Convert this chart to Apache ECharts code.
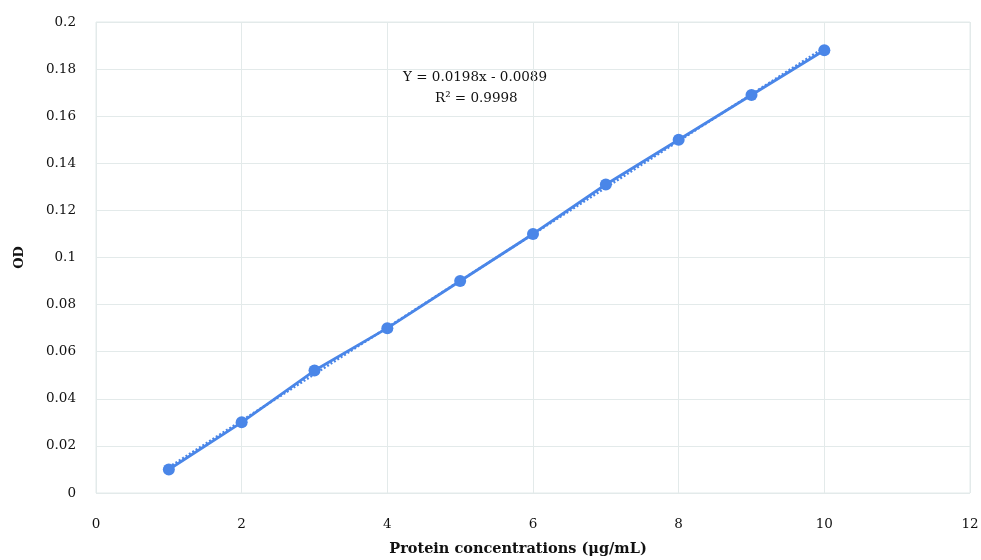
<!DOCTYPE html>
<html><head><meta charset="utf-8">
<script src="https://cdn.jsdelivr.net/npm/echarts@6/dist/echarts.min.js"></script>
<style>html,body{margin:0;padding:0;background:#fff}#c{width:981px;height:560px}</style>
</head><body><div id="c"></div>
<script>
const concentrations = [1, 2, 3, 4, 5, 6, 7, 8, 9, 10];
const odValues = [0.010, 0.030, 0.052, 0.070, 0.090, 0.110, 0.131, 0.150, 0.169, 0.188];
const trendX = [1, 10];
const trendY = [0.0109, 0.1891];
const xTicks = [0, 2, 4, 6, 8, 10, 12];
const yTicks = [0, 0.02, 0.04, 0.06, 0.08, 0.1, 0.12, 0.14, 0.16, 0.18, 0.2];
const equationText = 'Y = 0.0198x - 0.0089';
const r2Text = 'R² = 0.9998';

const font = '"DejaVu Serif", "Liberation Serif", serif';
const chart = echarts.init(document.getElementById('c'));
chart.setOption({
  animation: false,
  grid: { left: 96, right: 11, top: 22, bottom: 67, show: true, borderColor: '#e3eaea', borderWidth: 1,
          outerBoundsMode: 'none', containLabel: false },
  xAxis: {
    type: 'value', min: 0, max: 12, interval: 2,
    name: 'Protein concentrations (μg/mL)', nameLocation: 'middle', nameGap: 49,
    nameTextStyle: { fontFamily: font, fontWeight: 'bold', fontSize: 14.5, color: '#111', padding: [0, 30, 0, 0] },
    axisLine: { show: false }, axisTick: { show: false },
    axisLabel: { fontFamily: font, fontSize: 13.5, color: '#111', margin: 24,
      formatter: v => xTicks.includes(v) ? String(v) : '' },
    splitLine: { show: true, lineStyle: { color: '#e3eaea', width: 1 } }
  },
  yAxis: {
    type: 'value', min: 0, max: 0.2, interval: 0.02,
    name: 'OD', nameLocation: 'middle', nameGap: 70, nameRotate: 90,
    nameTextStyle: { fontFamily: font, fontWeight: 'bold', fontSize: 13, color: '#111' },
    axisLine: { show: false }, axisTick: { show: false },
    axisLabel: { fontFamily: font, fontSize: 13.5, color: '#111', margin: 20,
      formatter: v => { const t = yTicks.find(k => Math.abs(k - v) < 1e-9); return t === undefined ? '' : String(t); } },
    splitLine: { show: true, lineStyle: { color: '#e3eaea', width: 1 } }
  },
  series: [
    {
      type: 'line', data: trendX.map((x, i) => [x, trendY[i]]),
      symbol: 'none', lineStyle: { color: '#4a86e8', width: 2.5, type: [2, 2] }, z: 1
    },
    {
      type: 'line', data: concentrations.map((x, i) => [x, odValues[i]]),
      symbol: 'circle', symbolSize: 12,
      itemStyle: { color: '#4a86e8' }, lineStyle: { color: '#4a86e8', width: 2.8 }, z: 2
    }
  ],
  graphic: [
    { type: 'text', left: 403, top: 70, style: { text: equationText, font: '13.5px ' + font, fill: '#111' } },
    { type: 'text', left: 435, top: 91, style: { text: r2Text, font: '13.5px ' + font, fill: '#111' } }
  ]
});
</script></body></html>
